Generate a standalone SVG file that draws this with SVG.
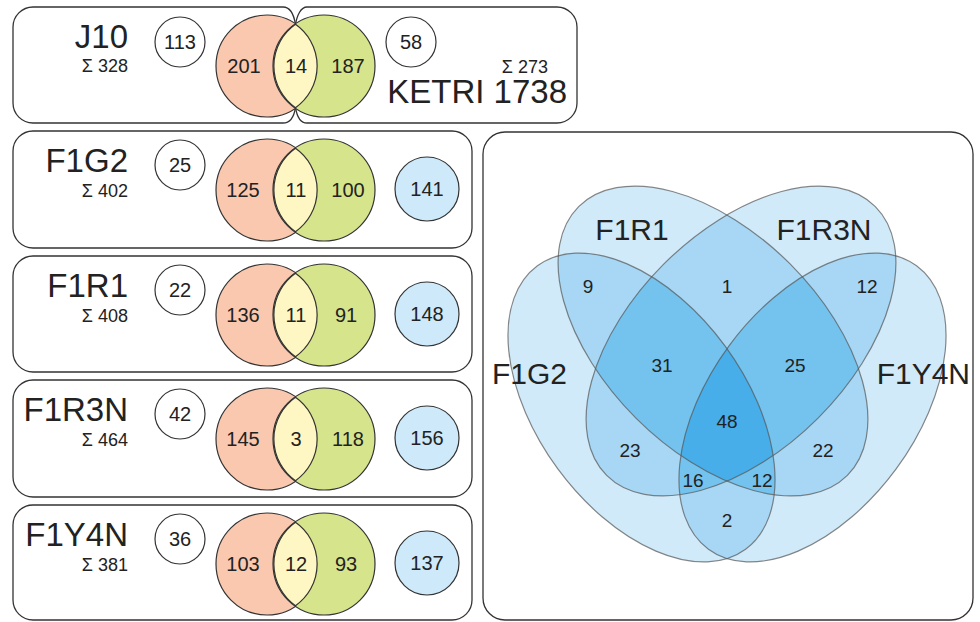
<svg xmlns="http://www.w3.org/2000/svg" xmlns:xlink="http://www.w3.org/1999/xlink" width="980" height="622" viewBox="0 0 980 622">
<style>
text{font-family:"Liberation Sans",Arial,sans-serif;fill:#222}
.box{fill:none;stroke:#333;stroke-width:1.3}
.title{font-size:33px;text-anchor:end}
.sum{font-size:18px;text-anchor:end}
.num{font-size:20px;text-anchor:middle}
.vn{font-size:19px;text-anchor:middle}
.vl{font-size:30px}
.wc{fill:#fff;stroke:#333;stroke-width:1.2}
.pk{fill:#F9C8AE;stroke:#333;stroke-width:1.2}
.gr{fill:#D6E48C;stroke:#333;stroke-width:1.2}
.ln{fill:#FEF7C3;stroke:#333;stroke-width:1.2}
.bc{fill:#CEEAFA;stroke:#333;stroke-width:1.2}
.eo{fill:none;stroke:#555;stroke-opacity:0.7;stroke-width:1.2}
</style>
<defs>
<ellipse id="eG" cx="641.5" cy="407.5" rx="175.8" ry="103.8" transform="rotate(53.7 641.5 407.5)"/>
<ellipse id="eY" cx="812.5" cy="407.5" rx="175.8" ry="103.8" transform="rotate(-53.7 812.5 407.5)"/>
<ellipse id="eR" cx="713" cy="341" rx="190" ry="109" transform="rotate(45 713 341)"/>
<ellipse id="eN" cx="741" cy="341" rx="190" ry="109" transform="rotate(-45 741 341)"/>
<clipPath id="cG"><ellipse cx="641.5" cy="407.5" rx="175.8" ry="103.8" transform="rotate(53.7 641.5 407.5)"/></clipPath>
<clipPath id="cY"><ellipse cx="812.5" cy="407.5" rx="175.8" ry="103.8" transform="rotate(-53.7 812.5 407.5)"/></clipPath>
<clipPath id="cR"><ellipse cx="713" cy="341" rx="190" ry="109" transform="rotate(45 713 341)"/></clipPath>
<clipPath id="cN"><ellipse cx="741" cy="341" rx="190" ry="109" transform="rotate(-45 741 341)"/></clipPath>
</defs>

<!-- Top row: J10 / KETRI 1738 -->
<g id="row-j10-ketri">
<path class="box" d="M295.5 107.3 C294 117 290 123 283 123 H33 A20 20 0 0 1 13 103 V27 A20 20 0 0 1 33 7 H283 C290 7 294 15 295.5 24.7"/>
<path class="box" d="M295.5 24.7 C297 15 301 7 307 7 H557 A20 20 0 0 1 577 27 V103 A20 20 0 0 1 557 123 H307 C301 123 297 117 295.5 107.3"/>
<text class="title" x="128" y="48">J10</text>
<text class="sum" x="128" y="72">Σ 328</text>
<circle class="wc" cx="180" cy="42" r="25"/>
<text class="num" x="180" y="49">113</text>
<circle class="pk" cx="267" cy="66" r="51"/>
<circle class="gr" cx="324" cy="66" r="51"/>
<path class="ln" d="M295.5 24.3 A51 51 0 0 1 295.5 107.7 A51 51 0 0 1 295.5 24.3 Z"/>
<text class="num" x="244" y="73">201</text>
<text class="num" x="296" y="73">14</text>
<text class="num" x="348" y="73">187</text>
<circle class="wc" cx="411" cy="42" r="25"/>
<text class="num" x="411" y="49">58</text>
<text class="sum" x="548" y="73">Σ 273</text>
<text style="font-size:33px;text-anchor:end" x="567" y="103">KETRI 1738</text>
</g>

<!-- Row F1G2 -->
<g id="row-f1g2" transform="translate(0,131)">
<rect class="box" x="13" y="0" width="459" height="117" rx="20"/>
<text class="title" x="128" y="41">F1G2</text>
<text class="sum" x="128" y="66">Σ 402</text>
<circle class="wc" cx="180" cy="34" r="25"/>
<text class="num" x="180" y="41">25</text>
<circle class="pk" cx="267" cy="59" r="51"/>
<circle class="gr" cx="324" cy="59" r="51"/>
<path class="ln" d="M295.5 17.3 A51 51 0 0 1 295.5 100.7 A51 51 0 0 1 295.5 17.3 Z"/>
<text class="num" x="243" y="66">125</text>
<text class="num" x="296" y="66">11</text>
<text class="num" x="348" y="66">100</text>
<circle class="bc" cx="427" cy="58" r="32"/>
<text class="num" x="427" y="65">141</text>
</g>

<!-- Row F1R1 -->
<g id="row-f1r1" transform="translate(0,256)">
<rect class="box" x="13" y="0" width="459" height="116" rx="20"/>
<text class="title" x="128" y="41">F1R1</text>
<text class="sum" x="128" y="66">Σ 408</text>
<circle class="wc" cx="180" cy="34" r="25"/>
<text class="num" x="180" y="41">22</text>
<circle class="pk" cx="267" cy="59" r="51"/>
<circle class="gr" cx="324" cy="59" r="51"/>
<path class="ln" d="M295.5 17.3 A51 51 0 0 1 295.5 100.7 A51 51 0 0 1 295.5 17.3 Z"/>
<text class="num" x="243" y="66">136</text>
<text class="num" x="296" y="66">11</text>
<text class="num" x="346" y="66">91</text>
<circle class="bc" cx="427" cy="58" r="32"/>
<text class="num" x="427" y="65">148</text>
</g>

<!-- Row F1R3N -->
<g id="row-f1r3n" transform="translate(0,380)">
<rect class="box" x="13" y="0" width="459" height="117" rx="20"/>
<text class="title" x="128" y="41">F1R3N</text>
<text class="sum" x="128" y="66">Σ 464</text>
<circle class="wc" cx="180" cy="34" r="25"/>
<text class="num" x="180" y="41">42</text>
<circle class="pk" cx="267" cy="59" r="51"/>
<circle class="gr" cx="324" cy="59" r="51"/>
<path class="ln" d="M295.5 17.3 A51 51 0 0 1 295.5 100.7 A51 51 0 0 1 295.5 17.3 Z"/>
<text class="num" x="243" y="66">145</text>
<text class="num" x="296" y="66">3</text>
<text class="num" x="348" y="66">118</text>
<circle class="bc" cx="427" cy="58" r="32"/>
<text class="num" x="427" y="65">156</text>
</g>

<!-- Row F1Y4N -->
<g id="row-f1y4n" transform="translate(0,505)">
<rect class="box" x="13" y="0" width="459" height="115" rx="20"/>
<text class="title" x="128" y="41">F1Y4N</text>
<text class="sum" x="128" y="66">Σ 381</text>
<circle class="wc" cx="180" cy="34" r="25"/>
<text class="num" x="180" y="41">36</text>
<circle class="pk" cx="267" cy="59" r="51"/>
<circle class="gr" cx="324" cy="59" r="51"/>
<path class="ln" d="M295.5 17.3 A51 51 0 0 1 295.5 100.7 A51 51 0 0 1 295.5 17.3 Z"/>
<text class="num" x="243" y="66">103</text>
<text class="num" x="296" y="66">12</text>
<text class="num" x="346" y="66">93</text>
<circle class="bc" cx="427" cy="58" r="32"/>
<text class="num" x="427" y="65">137</text>
</g>

<!-- Four-set Venn -->
<g id="venn4">
<rect class="box" x="483" y="132" width="490" height="488" rx="22"/>
<g fill="#D0EAF9">
<use xlink:href="#eG" href="#eG"/><use xlink:href="#eY" href="#eY"/><use xlink:href="#eR" href="#eR"/><use xlink:href="#eN" href="#eN"/>
</g>
<g fill="#A7D7F4">
<g clip-path="url(#cG)"><use href="#eR" xlink:href="#eR"/><use href="#eN" xlink:href="#eN"/><use href="#eY" xlink:href="#eY"/></g>
<g clip-path="url(#cR)"><use href="#eN" xlink:href="#eN"/><use href="#eY" xlink:href="#eY"/></g>
<g clip-path="url(#cN)"><use href="#eY" xlink:href="#eY"/></g>
</g>
<g fill="#74C3EE">
<g clip-path="url(#cG)"><g clip-path="url(#cR)"><use href="#eN" xlink:href="#eN"/><use href="#eY" xlink:href="#eY"/></g></g>
<g clip-path="url(#cG)"><g clip-path="url(#cN)"><use href="#eY" xlink:href="#eY"/></g></g>
<g clip-path="url(#cR)"><g clip-path="url(#cN)"><use href="#eY" xlink:href="#eY"/></g></g>
</g>
<g fill="#47AEE9">
<g clip-path="url(#cG)"><g clip-path="url(#cR)"><g clip-path="url(#cN)"><use href="#eY" xlink:href="#eY"/></g></g></g>
</g>
<g class="eo">
<use href="#eG" xlink:href="#eG"/><use href="#eY" xlink:href="#eY"/><use href="#eR" xlink:href="#eR"/><use href="#eN" xlink:href="#eN"/>
</g>
<text class="vl" x="632" y="240" text-anchor="middle">F1R1</text>
<text class="vl" x="824" y="240" text-anchor="middle">F1R3N</text>
<text class="vl" x="492" y="384" text-anchor="start">F1G2</text>
<text class="vl" x="970" y="384" text-anchor="end">F1Y4N</text>
<text class="vn" x="588" y="293">9</text>
<text class="vn" x="727" y="293">1</text>
<text class="vn" x="867" y="293">12</text>
<text class="vn" x="662" y="372">31</text>
<text class="vn" x="795" y="372">25</text>
<text class="vn" x="727" y="428">48</text>
<text class="vn" x="630" y="457">23</text>
<text class="vn" x="823" y="457">22</text>
<text class="vn" x="693" y="487">16</text>
<text class="vn" x="762" y="487">12</text>
<text class="vn" x="727" y="527">2</text>
</g>
</svg>
